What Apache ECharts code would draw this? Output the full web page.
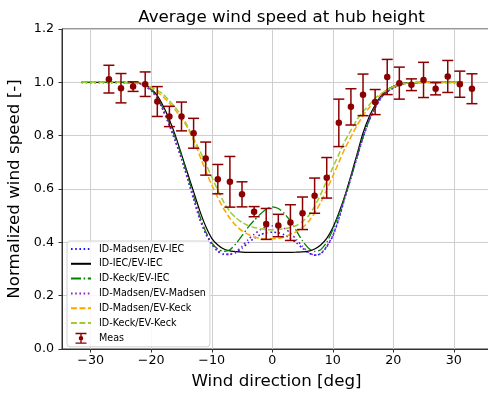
<!DOCTYPE html>
<html>
<head>
<meta charset="utf-8">
<script src="https://cdn.jsdelivr.net/npm/echarts@6/dist/echarts.min.js"></script>
<style>html,body{margin:0;padding:0;background:#fff;}#c{width:488px;height:394px;}</style>
</head>
<body>
<div id="c"></div>
<script>
const titleText = 'Average wind speed at hub height';
const xName = 'Wind direction [deg]';
const yName = 'Normalized wind speed [-]';
const xTicks = [-30, -20, -10, 0, 10, 20, 30];

const curveX = [-31.5,-28,-25,-22,-21,-20,-19,-18,-17,-16,-15,-14,-13,-12,-11,-10,-9,-8,-7,-6,-5,-4,-3,-2,-1,0,1,2,3,4,5,6,7,8,9,10,11,12,13,14,15,16,17,18,19,20,21,22,25,28,31.5];

const madsenIEC = [1,1,1,0.995,0.985,0.97,0.94,0.893,0.838,0.778,0.713,0.638,0.562,0.487,0.432,0.393,0.366,0.355,0.355,0.362,0.378,0.398,0.415,0.428,0.436,0.438,0.436,0.428,0.415,0.398,0.378,0.36,0.352,0.357,0.383,0.423,0.487,0.567,0.642,0.718,0.793,0.856,0.903,0.942,0.964,0.979,0.99,0.996,1,1,1];
const iecIEC = [1,1,1,0.997,0.99,0.975,0.95,0.91,0.86,0.80,0.73,0.66,0.59,0.52,0.46,0.415,0.39,0.375,0.368,0.365,0.363,0.362,0.362,0.362,0.362,0.362,0.362,0.362,0.362,0.363,0.364,0.367,0.375,0.39,0.415,0.455,0.51,0.575,0.65,0.73,0.81,0.87,0.915,0.95,0.972,0.985,0.993,0.998,1,1,1];
const keckIEC = [1,1,1,0.996,0.987,0.972,0.943,0.9,0.848,0.79,0.725,0.65,0.575,0.5,0.44,0.398,0.375,0.366,0.372,0.395,0.425,0.456,0.482,0.505,0.525,0.533,0.527,0.508,0.48,0.443,0.405,0.378,0.366,0.372,0.4,0.447,0.505,0.57,0.64,0.72,0.795,0.858,0.908,0.945,0.966,0.98,0.99,0.996,1,1,1];
const madsenMadsen = [1,1,1,0.995,0.985,0.97,0.94,0.895,0.84,0.78,0.715,0.64,0.565,0.49,0.435,0.395,0.368,0.356,0.355,0.365,0.385,0.41,0.43,0.447,0.458,0.462,0.46,0.452,0.435,0.41,0.385,0.362,0.352,0.358,0.385,0.425,0.49,0.57,0.645,0.72,0.795,0.858,0.905,0.943,0.965,0.98,0.99,0.996,1,1,1];
const madsenKeck = [1,1,1,0.997,0.99,0.978,0.963,0.945,0.922,0.895,0.865,0.83,0.782,0.726,0.668,0.615,0.568,0.525,0.49,0.463,0.443,0.43,0.42,0.415,0.413,0.413,0.414,0.42,0.43,0.44,0.455,0.478,0.51,0.55,0.597,0.648,0.70,0.752,0.795,0.838,0.875,0.905,0.932,0.955,0.972,0.984,0.992,0.997,1,1,1];
const keckKeck = [1,1,1,0.996,0.99,0.982,0.97,0.955,0.93,0.905,0.875,0.835,0.79,0.745,0.695,0.645,0.595,0.55,0.515,0.492,0.475,0.463,0.456,0.451,0.448,0.447,0.448,0.451,0.456,0.463,0.478,0.50,0.535,0.58,0.63,0.68,0.73,0.78,0.82,0.86,0.89,0.915,0.94,0.958,0.972,0.983,0.991,0.996,1,1,1];

const measX = [-27,-25,-23,-21,-19,-17,-15,-13,-11,-9,-7,-5,-3,-1,1,3,5,7,9,11,13,15,17,19,21,23,25,27,29,31,33];
const measY = [1.012,0.978,0.984,0.993,0.928,0.872,0.872,0.809,0.714,0.637,0.627,0.580,0.515,0.469,0.463,0.474,0.509,0.575,0.642,0.848,0.908,0.953,0.926,1.020,0.997,0.991,1.009,0.976,1.022,0.993,0.976];
const measErr = [0.052,0.055,0.018,0.046,0.056,0.038,0.054,0.056,0.062,0.055,0.095,0.047,0.019,0.058,0.042,0.067,0.061,0.066,0.076,0.089,0.068,0.078,0.047,0.066,0.06,0.022,0.066,0.023,0.06,0.049,0.056];

const FONT = 'DejaVu Sans';
const pair = (ys) => curveX.map((x, i) => [x, ys[i]]);
const lineSeries = (name, ys, color, type, width) => ({
  name, type: 'line', data: pair(ys), showSymbol: false, symbol: 'none', smooth: 0.2,
  lineStyle: { color, width, type }, itemStyle: { color }, z: 3
});
const dotted = [1.6, 2.6];
const dashed = [5.9, 2.6];
const dashdot = [10, 2.6, 1.6, 2.6];
const lineNames = ['ID-Madsen/EV-IEC', 'ID-IEC/EV-IEC', 'ID-Keck/EV-IEC', 'ID-Madsen/EV-Madsen', 'ID-Madsen/EV-Keck', 'ID-Keck/EV-Keck'];

const chart = echarts.init(document.getElementById('c'), null, { renderer: 'canvas' });
const option = {
  animation: false,
  backgroundColor: '#fff',
  textStyle: { fontFamily: FONT },
  title: {
    text: titleText, left: 276.5, top: 4, textAlign: 'center',
    textStyle: { fontFamily: FONT, fontSize: 16.7, fontWeight: 'normal', color: '#000' }
  },
  grid: { left: 62, top: 29, width: 429, height: 320, outerBoundsMode: 'none', containLabel: false,
    show: true, borderColor: '#333', borderWidth: 1, backgroundColor: 'transparent' },
  xAxis: {
    type: 'value', min: -34.75, max: 36.15,
    name: xName, nameLocation: 'middle', nameGap: 24,
    nameTextStyle: { fontFamily: FONT, fontSize: 16.7, color: '#000' },
    axisLine: { show: true, onZero: false, lineStyle: { color: '#333', width: 1 } },
    axisTick: { show: true, customValues: xTicks, length: 3.5, lineStyle: { color: '#333' } },
    axisLabel: { customValues: xTicks, margin: 5, fontFamily: FONT, fontSize: 12.7, color: '#000',
      formatter: v => (v < 0 ? '\u2212' : '') + Math.abs(v) },
    splitLine: { show: true, lineStyle: { color: '#cfcfcf', width: 1 } }
  },
  yAxis: {
    type: 'value', min: 0, max: 1.2, interval: 0.2,
    name: yName, nameLocation: 'middle', nameGap: 35,
    nameTextStyle: { fontFamily: FONT, fontSize: 16.7, color: '#000' },
    axisLine: { show: true, onZero: false, lineStyle: { color: '#333', width: 1 } },
    axisTick: { show: true, length: 3.5, lineStyle: { color: '#333' } },
    axisLabel: { margin: 8, fontFamily: FONT, fontSize: 12.7, color: '#000', formatter: v => v.toFixed(1) },
    splitLine: { show: true, lineStyle: { color: '#cfcfcf', width: 1 } }
  },
  legend: {
    orient: 'vertical', left: 67, top: 241,
    itemWidth: 20, itemHeight: 11, itemGap: 4.8,
    padding: [3, 4, 3, 3],
    backgroundColor: 'rgba(255,255,255,0.85)', borderColor: '#d0d0d0', borderWidth: 1, borderRadius: 3,
    textStyle: { fontFamily: FONT, fontSize: 9.6, color: '#000', padding: [0, 0, 0, 3] },
    data: lineNames.map(n => ({ name: n, itemStyle: { opacity: 0 } })).concat([
      { name: 'Meas', icon: 'path://M0,0H12V1.5H0Z M5.25,0H6.75V12H5.25Z M0,10.5H12V12H0Z M6,3.5A2.5,2.5,0,1,1,5.99,3.5Z', itemStyle: { color: '#8b0000', opacity: 1 } }
    ])
  },
  series: [
    lineSeries(lineNames[0], madsenIEC, '#1a1aff', dotted, 1.6),
    lineSeries(lineNames[1], iecIEC, '#000000', 'solid', 1.2),
    lineSeries(lineNames[2], keckIEC, '#008000', dashdot, 1.3),
    lineSeries(lineNames[3], madsenMadsen, '#8a1ec8', dotted, 1.6),
    lineSeries(lineNames[4], madsenKeck, '#ffa500', dashed, 1.5),
    lineSeries(lineNames[5], keckKeck, '#9acd32', dashed, 1.5),
    {
      name: 'Meas', type: 'custom', z: 5, clip: false,
      data: measX.map((x, i) => [x, measY[i], measErr[i]]),
      encode: { x: 0, y: 1 },
      renderItem: (params, api) => {
        const x = api.value(0), v = api.value(1), e = api.value(2);
        const t = api.coord([x, v + e]), b = api.coord([x, v - e]);
        const hw = 5.5;
        const style = { stroke: '#8b0000', lineWidth: 1.5, fill: null };
        return { type: 'group', children: [
          { type: 'line', shape: { x1: t[0], y1: t[1], x2: b[0], y2: b[1] }, style },
          { type: 'line', shape: { x1: t[0] - hw, y1: t[1], x2: t[0] + hw, y2: t[1] }, style },
          { type: 'line', shape: { x1: b[0] - hw, y1: b[1], x2: b[0] + hw, y2: b[1] }, style }
        ]};
      },
      itemStyle: { color: '#8b0000' }
    },
    {
      name: 'Meas', type: 'scatter', z: 6, symbol: 'circle', symbolSize: 6.5,
      data: measX.map((x, i) => [x, measY[i]]),
      itemStyle: { color: '#8b0000', opacity: 1 }
    }
  ]
};
chart.setOption(option);
</script>
</body>
</html>
